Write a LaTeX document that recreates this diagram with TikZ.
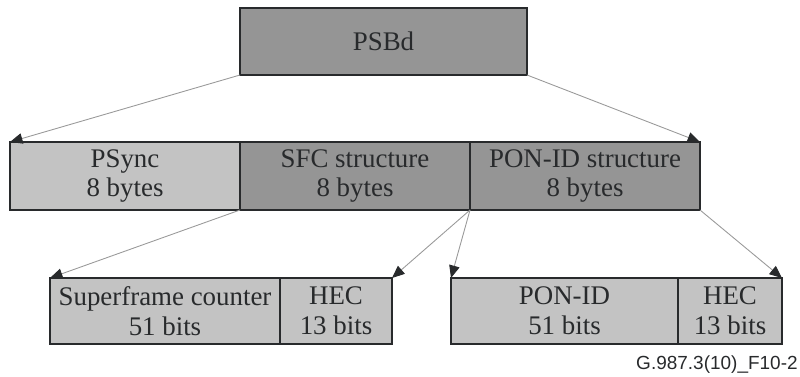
\documentclass[tikz,border=0pt]{standalone}
\usepackage{fontspec}
\setmainfont{Liberation Serif}
\newfontfamily\labelfont{Liberation Sans}
\usetikzlibrary{arrows.meta}

\definecolor{lightcell}{RGB}{195,195,195}
\definecolor{darkcell}{RGB}{149,149,149}
\definecolor{inkcol}{RGB}{40,42,44}

\begin{document}
\begin{tikzpicture}[
    field/.style={draw=inkcol, line width=1.2pt, inner sep=0pt, outer sep=0pt,
      anchor=north west, align=center, text=inkcol,
      font=\fontsize{15.3}{17}\selectfont},
    lightfield/.style={field, fill=lightcell},
    darkfield/.style={field, fill=darkcell},
    pointer/.style={draw=gray!80, line width=0.5pt,
      -{Triangle[length=2.5mm, width=2.1mm, color=inkcol]}}
  ]
  \useasboundingbox (0,0) rectangle (16,7.52);

  % top block
  \node[darkfield, minimum width=5.74cm, minimum height=1.34cm] (psbd) at (4.8,7.36) {PSBd};

  % middle row: the three fields of PSBd
  \node[lightfield, minimum width=4.6cm, minimum height=1.36cm] (psync) at (0.2,4.68) {PSync\\8 bytes};
  \node[darkfield, minimum width=4.6cm, minimum height=1.36cm] (sfc) at (4.8,4.68) {SFC structure\\8 bytes};
  \node[darkfield, minimum width=4.6cm, minimum height=1.36cm] (ponstruct) at (9.4,4.68) {PON-ID structure\\8 bytes};

  % bottom left: SFC structure
  \node[lightfield, minimum width=4.6cm, minimum height=1.32cm] (sfcount) at (1.0,1.96) {Superframe counter\\51 bits};
  \node[lightfield, minimum width=2.24cm, minimum height=1.32cm] (sfchec) at (5.6,1.96) {HEC\\13 bits};

  % bottom right: PON-ID structure
  \node[lightfield, minimum width=4.54cm, minimum height=1.32cm] (ponid) at (9.02,1.96) {PON-ID\\51 bits};
  \node[lightfield, minimum width=2.08cm, minimum height=1.32cm] (ponhec) at (13.56,1.96) {HEC\\13 bits};

  % expansion pointers
  \draw[pointer] (psbd.south west) -- (psync.north west);
  \draw[pointer] (psbd.south east) -- (ponstruct.north east);
  \draw[pointer] (sfc.south west) -- (sfcount.north west);
  \draw[pointer] (sfc.south east) -- (sfchec.north east);
  \draw[pointer] (ponstruct.south west) -- (ponid.north west);
  \draw[pointer] (ponstruct.south east) -- (ponhec.north east);

  % figure tag
  \node[anchor=base east, inner sep=0pt, text=inkcol, font=\labelfont\fontsize{10.8}{12}\selectfont] (tag) at (15.96,0.13) {G.987.3(10)\_F10-2};
\end{tikzpicture}
\end{document}
